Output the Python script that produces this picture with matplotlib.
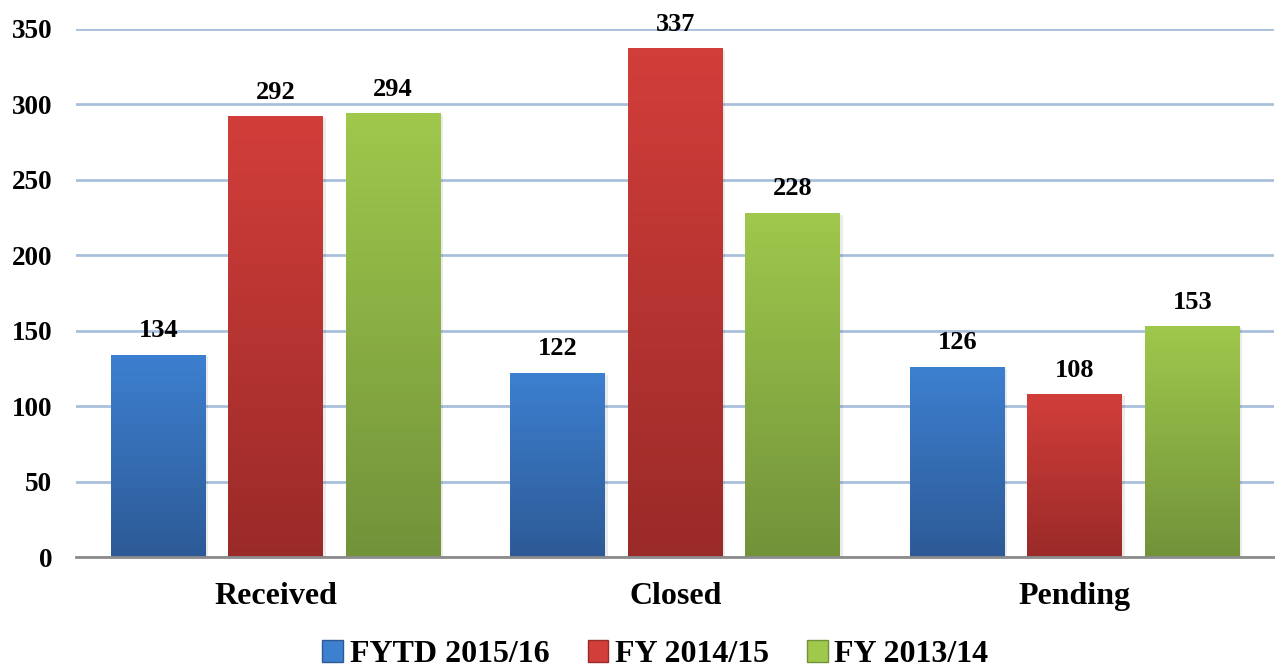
import numpy as np
import matplotlib.pyplot as plt
from matplotlib.colors import LinearSegmentedColormap
from matplotlib.patches import Patch

categories = ["Received", "Closed", "Pending"]
series = ["FYTD 2015/16", "FY 2014/15", "FY 2013/14"]
fytd_1516 = [134, 122, 126]
fy_1415 = [292, 337, 108]
fy_1314 = [294, 228, 153]
values = [fytd_1516, fy_1415, fy_1314]
yticks = [0, 50, 100, 150, 200, 250, 300, 350]

# top color, bottom color for each series
grads = [("#3d80d0", "#2d5a96"), ("#d23e3a", "#9a2a28"), ("#9fc84c", "#72923a")]

plt.rcParams['font.family'] = ['Liberation Serif', 'DejaVu Serif']
plt.rcParams['font.weight'] = 'bold'

fig = plt.figure(figsize=(12.75, 6.68), dpi=100)
ax = fig.add_axes([0.0596, 0.166, 0.94, 0.791])

x = np.arange(len(categories))
width = 0.2375
step = 0.294

grad = np.linspace(0, 1, 256).reshape(-1, 1)
for i, vals in enumerate(values):
    pos = x + (i - 1) * step
    bars = ax.bar(pos, vals, width, color="none", zorder=3)
    cmap = LinearSegmentedColormap.from_list("g%d" % i, [grads[i][1], grads[i][0]])
    for b, v in zip(bars, vals):
        x0 = b.get_x()
        # soft shadow
        ax.bar(x0 + width / 2 + 0.006, v, width, bottom=-1.2, color="#000000",
               alpha=0.08, zorder=2.5)
        im = ax.imshow(grad, extent=[x0, x0 + width, 0, v], origin="lower",
                       aspect="auto", cmap=cmap, zorder=3)
        im.set_clip_path(b)
        ax.annotate(str(v), (x0 + width / 2, v), xytext=(0, 9),
                    textcoords="offset points", ha="center", va="bottom",
                    fontsize=19, fontweight="bold")

ax.set_xlim(-0.5, 2.5)
ax.set_ylim(0, 350)
ax.set_yticks(yticks)
ax.set_xticks(x)
ax.set_xticklabels(categories, fontsize=23, fontweight="bold")
ax.tick_params(axis="x", length=0, pad=18)
ax.tick_params(axis="y", length=0, pad=17, labelsize=19.5)
ax.grid(axis="y", color="#a9c0dc", linewidth=2, zorder=1)
ax.set_axisbelow(True)
for s in ["top", "right", "left"]:
    ax.spines[s].set_visible(False)
ax.spines["bottom"].set_color("#8c8c8c")
ax.spines["bottom"].set_linewidth(2)
ax.spines["bottom"].set_zorder(4)

handles = [Patch(facecolor=grads[i][0], edgecolor=grads[i][1]) for i in range(3)]
fig.legend(handles, series, loc="lower center", bbox_to_anchor=(0.514, -0.045),
           ncol=3, frameon=False, fontsize=23, handlelength=0.65, handleheight=0.65,
           handletextpad=0.2, columnspacing=1.2)

fig.savefig("out.png", dpi=100)
